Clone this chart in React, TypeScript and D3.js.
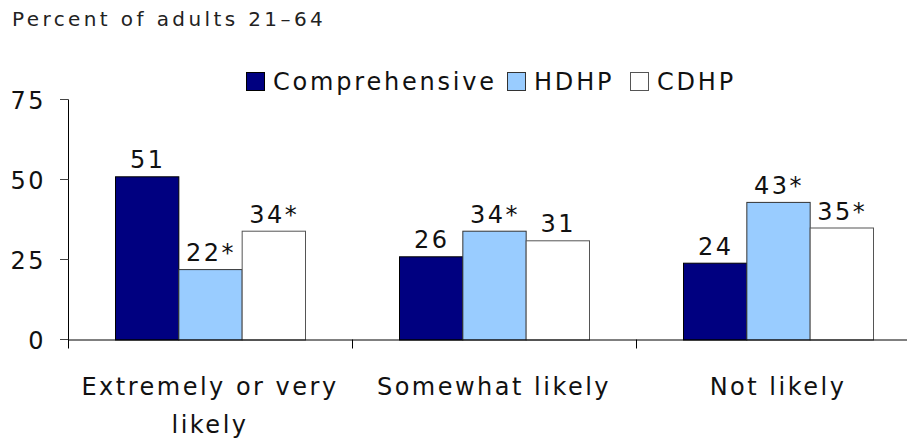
import React from "react";
import * as d3 from "d3";

const categories = ["Extremely or very likely", "Somewhat likely", "Not likely"];
const categoryLines = [["Extremely or very", "likely"], ["Somewhat likely"], ["Not likely"]];
const seriesNames = ["Comprehensive", "HDHP", "CDHP"];
const comprehensive = [51, 26, 24];
const hdhp = [22, 34, 43];
const cdhp = [34, 31, 35];
const labelsComprehensive = ["51", "26", "24"];
const labelsHdhp = ["22*", "34*", "43*"];
const labelsCdhp = ["34*", "31", "35*"];
const yTicks = [0, 25, 50, 75];

const colors = ["#000080", "#99CCFF", "#FFFFFF"];
const strokes = ["#000000", "#333333", "#555555"];

export default function App() {
  const W = 907, H = 442;
  const x0 = 68, bandW = 284;
  const x = d3.scaleBand<string>().domain(categories).range([x0, x0 + bandW * 3]).paddingInner(0).paddingOuter(0);
  const xInner = d3.scaleBand<string>().domain(seriesNames).range([47, bandW - 47]).padding(0);
  const y = d3.scaleLinear().domain([0, 75]).range([339.5, 99.5]);
  const values = [comprehensive, hdhp, cdhp];
  const labels = [labelsComprehensive, labelsHdhp, labelsCdhp];
  const font = "'DejaVu Sans', Verdana, sans-serif";
  const ls = 2.5;
  const legendSquareX = [246, 507, 630];

  return (
    <svg width={W} height={H} style={{ position: "absolute", left: 0, top: 0, background: "#fff" }} fontFamily={font}>
      <rect x={0} y={0} width={W} height={H} fill="#fff" />
      <text x={12} y={26} fontSize={20} letterSpacing={3.4} fill="#222">Percent of adults 21–64</text>

      {/* legend */}
      {seriesNames.map((s, i) => {
        const lx = legendSquareX[i];
        return (
          <g key={s}>
            <rect x={lx + 0.5} y={72.5} width={18} height={18} fill={colors[i]} stroke={strokes[i]} strokeWidth={1} />
            <text x={lx + 27} y={90} fontSize={24} letterSpacing={2.8} fill="#111">{s}</text>
          </g>
        );
      })}

      {/* bars */}
      {categories.map((c, ci) => (
        <g key={c}>
          {seriesNames.map((s, si) => {
            const bx = (x(c) as number) + (xInner(s) as number);
            const bw = xInner.bandwidth();
            const v = values[si][ci];
            return (
              <g key={s}>
                <rect x={bx + 0.5} y={y(v) + 0.5} width={bw} height={y(0) - y(v)} fill={colors[si]} stroke={strokes[si]} strokeWidth={1} />
                <text x={bx + bw / 2 + 1} y={y(v) - 8} fontSize={24} letterSpacing={ls} textAnchor="middle" fill="#111">{labels[si][ci]}</text>
              </g>
            );
          })}
        </g>
      ))}

      {/* y axis */}
      <line x1={x0 + 0.5} x2={x0 + 0.5} y1={y(75)} y2={y(0) + 8} stroke="#000" />
      {yTicks.map((t) => (
        <g key={t}>
          <line x1={60} x2={x0 + 0.5} y1={y(t)} y2={y(t)} stroke="#444" />
          <text x={46} y={y(t) + 9} fontSize={24} letterSpacing={ls} textAnchor="end" fill="#111">{t}</text>
        </g>
      ))}

      {/* x axis */}
      <line x1={x0} x2={x0 + bandW * 3} y1={y(0) + 0.5} y2={y(0) + 0.5} stroke="#000" />
      {[0, 1, 2, 3].map((i) => (
        <line key={i} x1={x0 + bandW * i + 0.5} x2={x0 + bandW * i + 0.5} y1={y(0)} y2={y(0) + 9} stroke="#000" />
      ))}
      {categories.map((c, ci) => (
        <text key={c} x={(x(c) as number) + bandW / 2} y={395} fontSize={24} letterSpacing={ls} textAnchor="middle" fill="#111">
          {categoryLines[ci].map((ln, li) => (
            <tspan key={li} x={(x(c) as number) + bandW / 2} dy={li === 0 ? 0 : 38}>{ln}</tspan>
          ))}
        </text>
      ))}
    </svg>
  );
}
